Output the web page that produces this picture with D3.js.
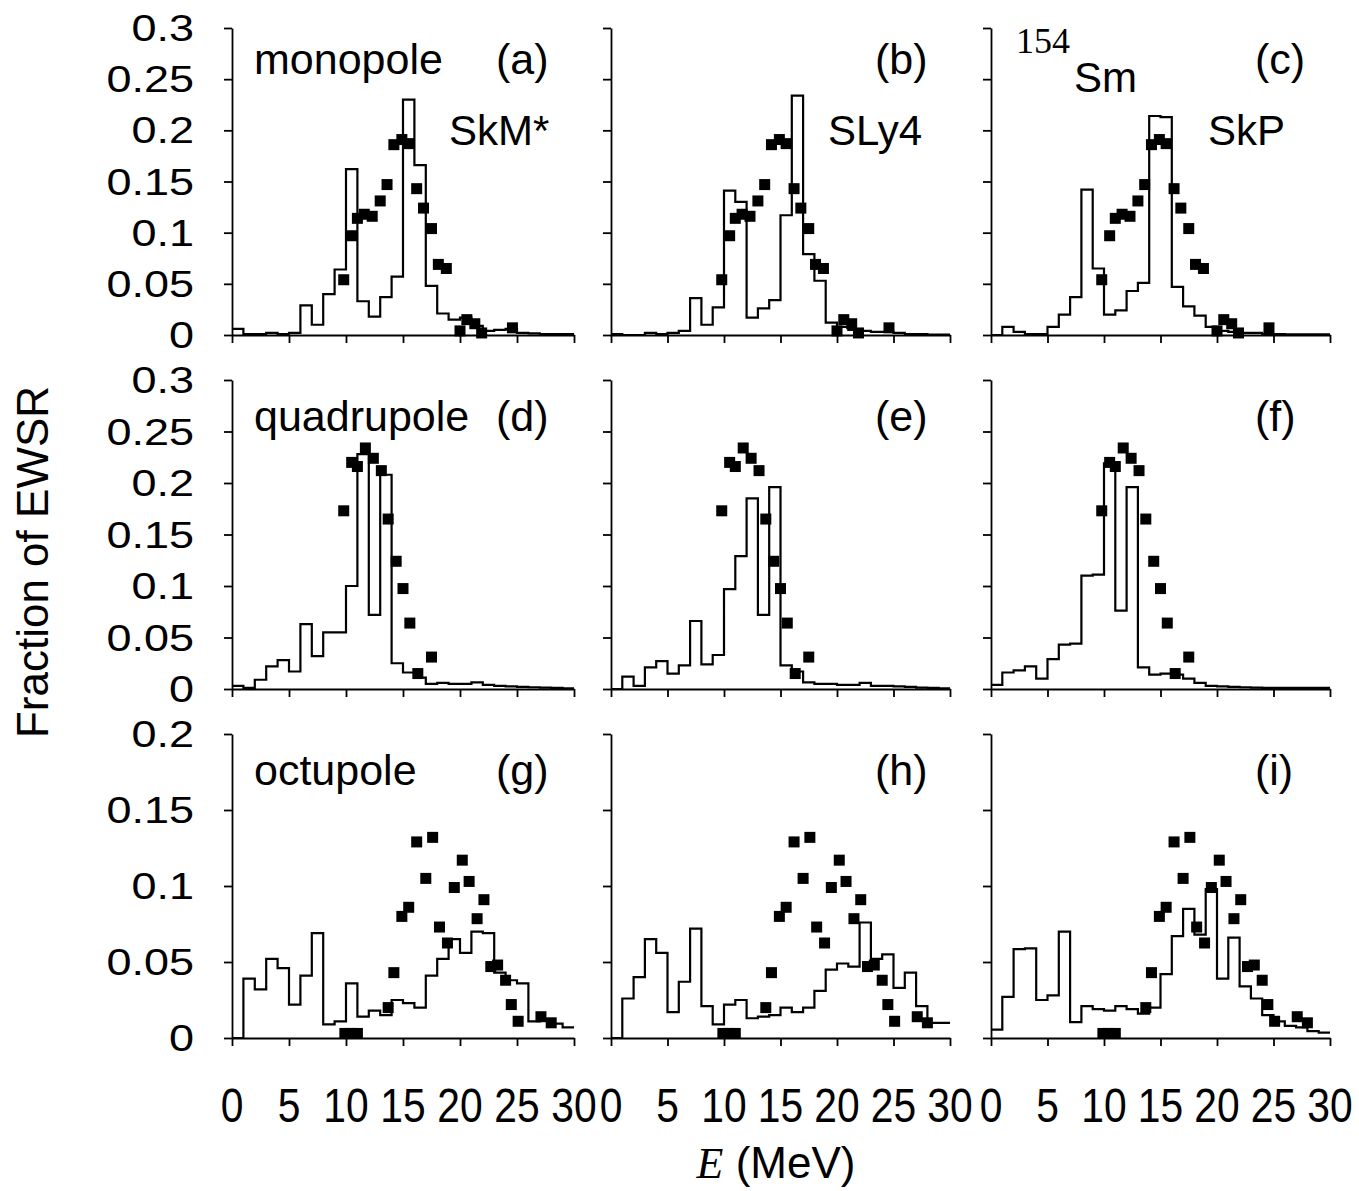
<!DOCTYPE html>
<html>
<head>
<meta charset="utf-8">
<script src="https://cdn.jsdelivr.net/npm/d3@7"></script>
<style>
body { margin: 0; background: #fff; }
text { font-family: "Liberation Sans", Arial, Helvetica, sans-serif; fill: #000; }
</style>
</head>
<body>
<svg id="chart" width="1359" height="1191"></svg>
<script>
// bin starts (MeV), 1 MeV wide bins
var binStart = [0,1,2,3,4,5,6,7,8,9,10,11,12,13,14,15,16,17,18,19,20,21,22,23,24,25,26,27,28,29];

// calculated strength, one array per panel
var histA = [0.006,0.001,0.001,0.002,0.001,0.002,0.029,0.010,0.040,0.064,0.162,0.033,0.018,0.037,0.057,0.230,0.166,0.048,0.021,0.015,0.017,0.009,0.004,0.005,0.006,0.002,0.0015,0.001,0.001,0.001];
var histB = [0.001,0.000,0.000,0.002,0.001,0.002,0.004,0.036,0.010,0.027,0.141,0.130,0.017,0.026,0.034,0.117,0.234,0.079,0.053,0.012,0.008,0.005,0.004,0.003,0.003,0.002,0.001,0.001,0.0005,0.0005];
var histC = [0.000,0.008,0.003,0.001,0.001,0.008,0.020,0.037,0.142,0.065,0.020,0.024,0.043,0.051,0.214,0.213,0.047,0.028,0.019,0.008,0.004,0.003,0.002,0.002,0.001,0.001,0.0007,0.0007,0.0007,0.0007];
var histD = [0.003,0.001,0.009,0.022,0.028,0.017,0.063,0.032,0.055,0.055,0.100,0.228,0.072,0.208,0.025,0.016,0.011,0.005,0.006,0.005,0.005,0.0065,0.004,0.003,0.0025,0.002,0.0017,0.0013,0.001,0.0007];
var histE = [0.000,0.012,0.003,0.021,0.027,0.015,0.023,0.066,0.024,0.033,0.097,0.129,0.185,0.072,0.196,0.023,0.017,0.0065,0.005,0.005,0.004,0.004,0.006,0.003,0.003,0.0025,0.002,0.0013,0.001,0.0007];
var histF = [0.004,0.016,0.018,0.022,0.010,0.029,0.043,0.044,0.110,0.111,0.219,0.076,0.196,0.021,0.014,0.015,0.014,0.010,0.006,0.003,0.0025,0.002,0.0017,0.0013,0.001,0.001,0.001,0.001,0.001,0.001];
var histG = [0.000,0.039,0.032,0.052,0.046,0.022,0.041,0.069,0.009,0.011,0.036,0.014,0.018,0.015,0.025,0.023,0.020,0.041,0.052,0.065,0.056,0.070,0.069,0.043,0.038,0.036,0.011,0.0125,0.0095,0.007];
var histH = [0.000,0.026,0.040,0.065,0.056,0.017,0.037,0.072,0.021,0.009,0.022,0.025,0.013,0.014,0.015,0.020,0.017,0.020,0.031,0.045,0.049,0.047,0.076,0.052,0.055,0.033,0.043,0.021,0.010,0.010];
var histI = [0.0055,0.027,0.0585,0.059,0.025,0.028,0.070,0.0105,0.021,0.019,0.018,0.021,0.019,0.016,0.020,0.042,0.067,0.085,0.068,0.098,0.039,0.066,0.034,0.026,0.015,0.011,0.008,0.007,0.0045,0.0035];

// experimental points (same in every panel of a row)
var monoE = [9.8,10.5,11.0,11.6,12.3,13.0,13.6,14.2,14.9,15.5,16.2,16.8,17.5,18.1,18.8,20.0,20.6,21.3,21.9,24.6];
var monoF = [0.054,0.097,0.114,0.118,0.116,0.131,0.147,0.186,0.191,0.187,0.143,0.124,0.104,0.069,0.065,0.004,0.015,0.011,0.002,0.007];
var quadE = [9.8,10.5,11.0,11.7,12.4,13.1,13.7,14.4,15.0,15.6,16.3,17.5];
var quadF = [0.173,0.220,0.216,0.234,0.224,0.212,0.165,0.124,0.0975,0.064,0.015,0.031];
var octE = [9.9,10.4,11.0,13.7,14.2,14.9,15.5,16.2,17.0,17.6,18.2,18.9,19.5,20.2,20.8,21.5,22.1,22.7,23.3,24.0,24.5,25.1,27.1,28.0];
var octF = [0.003,0.003,0.003,0.020,0.043,0.080,0.086,0.129,0.105,0.132,0.073,0.0625,0.099,0.117,0.103,0.0785,0.091,0.047,0.048,0.038,0.022,0.011,0.014,0.010];

var xTicks = [0,5,10,15,20,25,30];
var yTicks12 = [0,0.05,0.1,0.15,0.2,0.25,0.3];
var yTicks3 = [0,0.05,0.1,0.15,0.2];
var yTickLabels12 = ["0","0.05","0.1","0.15","0.2","0.25","0.3"];
var yTickLabels3 = ["0","0.05","0.1","0.15","0.2"];

var rowNames = ["monopole", "quadrupole", "octupole"];
var panelTags = [["(a)","(b)","(c)"],["(d)","(e)","(f)"],["(g)","(h)","(i)"]];
var forceNames = ["SkM*", "SLy4", "SkP"];

// layout
var colX = [[232,574],[611,950],[991,1330]];
var rowY = [[28,335],[380,689],[734,1038]];
var rowMax = [0.3, 0.3, 0.2];
var hists = [[histA,histB,histC],[histD,histE,histF],[histG,histH,histI]];
var expE = [monoE, quadE, octE];
var expF = [monoF, quadF, octF];

var svg = d3.select("#chart");
var msz = 11;

for (var r = 0; r < 3; r++) {
  for (var c = 0; c < 3; c++) {
    var x = d3.scaleLinear().domain([0,30]).range(colX[c]);
    var y = d3.scaleLinear().domain([0,rowMax[r]]).range([rowY[r][1], rowY[r][0]]);
    var g = svg.append("g");
    var yt = r < 2 ? yTicks12 : yTicks3;
    var ytl = r < 2 ? yTickLabels12 : yTickLabels3;

    // histogram
    var h = hists[r][c];
    var pts = binStart.map(function(b, i) { return [b, h[i]]; });
    pts.push([30, h[h.length-1]]);
    var line = d3.line()
      .x(function(d) { return x(d[0]); })
      .y(function(d) { return y(d[1]); })
      .curve(d3.curveStepAfter);
    g.append("path")
      .attr("d", line(pts))
      .attr("fill", "none")
      .attr("stroke", "#000")
      .attr("stroke-width", 2.2);

    // experiment
    var ex = expE[r].map(function(e, i) { return [e, expF[r][i]]; });
    g.selectAll("rect.exp")
      .data(ex)
      .enter()
      .append("rect")
      .attr("class", "exp")
      .attr("x", function(d) { return x(d[0]) - msz/2; })
      .attr("y", function(d) { return y(d[1]) - msz/2; })
      .attr("width", msz)
      .attr("height", msz)
      .attr("fill", "#000");

    // axes
    var ax = g.append("g")
      .attr("transform", "translate(0," + rowY[r][1] + ")")
      .call(d3.axisBottom(x).tickValues(xTicks).tickSize(8).tickSizeOuter(0).tickFormat(""));
    var ay = g.append("g")
      .attr("transform", "translate(" + colX[c][0] + ",0)")
      .call(d3.axisLeft(y).tickValues(yt).tickSize(8).tickSizeOuter(0).tickFormat(""));
    [ax, ay].forEach(function(a) {
      a.selectAll("path, line").attr("stroke", "#000").attr("stroke-width", 1.8);
    });

    if (c == 0) {
      yt.forEach(function(t, i) {
        g.append("text")
          .attr("transform", "translate(194," + (y(t) + 13) + ") scale(1.25,1)")
          .attr("text-anchor", "end")
          .style("font-size", "36px")
          .text(ytl[i]);
      });
    }
    if (r == 2) {
      xTicks.forEach(function(t) {
        g.append("text")
          .attr("transform", "translate(" + x(t) + ",1122) scale(0.85,1)")
          .attr("text-anchor", "middle")
          .style("font-size", "48px")
          .text(t);
      });
    }

    // panel labels
    var base = rowY[r][0] + (r == 0 ? 46 : 51);
    g.append("text")
      .attr("x", colX[c][0] + 264)
      .attr("y", base)
      .style("font-size", "43px")
      .text(panelTags[r][c]);
    if (c == 0) {
      g.append("text")
        .attr("x", 254)
        .attr("y", base)
        .style("font-size", "43px")
        .text(rowNames[r]);
    }
    if (r == 0) {
      g.append("text")
        .attr("x", colX[c][0] + 217)
        .attr("y", 145)
        .style("font-size", "42px")
        .text(forceNames[c]);
    }
  }
}

// nucleus label
svg.append("text")
  .attr("x", 1016)
  .attr("y", 53)
  .style("font-family", "'Liberation Serif','Times New Roman',serif")
  .style("font-size", "36px")
  .text("154");
svg.append("text")
  .attr("x", 1074)
  .attr("y", 92)
  .style("font-size", "42px")
  .text("Sm");

// axis titles
svg.append("text")
  .attr("transform", "translate(48,562) rotate(-90)")
  .attr("text-anchor", "middle")
  .style("font-size", "44px")
  .text("Fraction of EWSR");

var xt = svg.append("text")
  .attr("x", 776)
  .attr("y", 1178)
  .attr("text-anchor", "middle")
  .style("font-size", "44px");
xt.append("tspan")
  .style("font-family", "'Liberation Serif','Times New Roman',serif")
  .style("font-style", "italic")
  .text("E");
xt.append("tspan").text(" (MeV)");
</script>
</body>
</html>
